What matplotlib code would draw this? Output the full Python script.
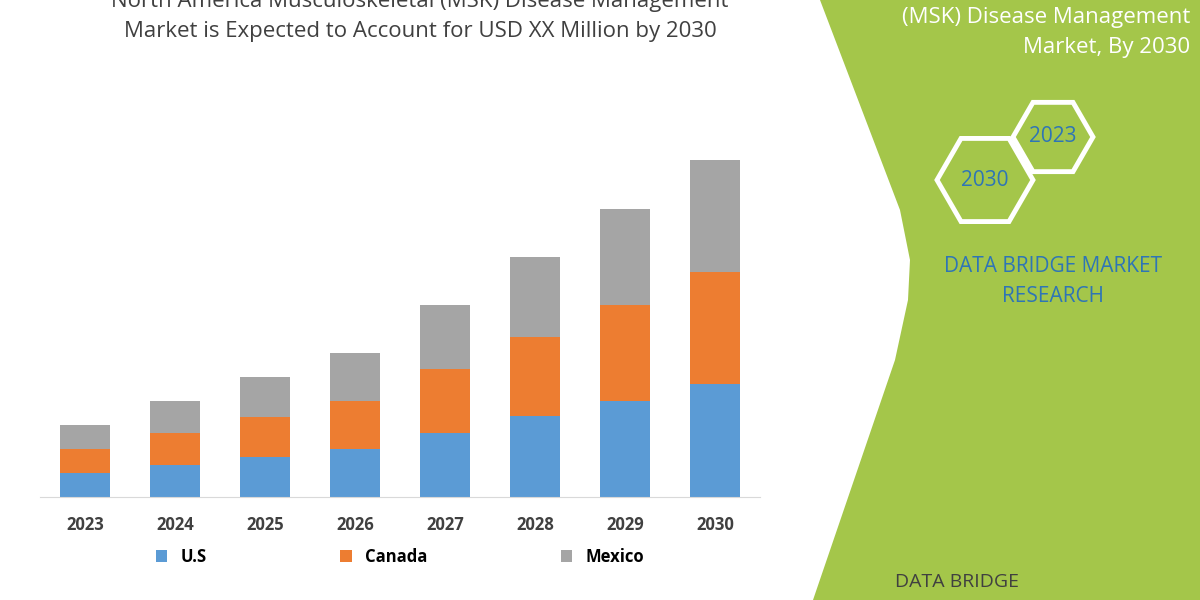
import matplotlib
matplotlib.use("Agg")
import numpy as np
import matplotlib.pyplot as plt
from matplotlib.patches import Polygon, RegularPolygon

plt.rcParams["font.family"] = ["Open Sans", "DejaVu Sans"]

# ── Data ─────────────────────────────────────────────────────────────────────
years  = ["2023", "2024", "2025", "2026", "2027", "2028", "2029", "2030"]
us     = [24, 32, 40, 48, 64, 81, 96, 113]
canada = [24, 32, 40, 48, 64, 79, 96, 112]
mexico = [24, 32, 40, 48, 64, 80, 96, 112]

C_US, C_CA, C_MX = "#5B9BD5", "#ED7D31", "#A5A5A5"
GREEN = "#A4C64A"
BLUE_TXT = "#2E75B6"

W, H = 1200, 600
fig = plt.figure(figsize=(12, 6), dpi=100)

# background layer in pixel coordinates
bg = fig.add_axes([0, 0, 1, 1])
bg.set_xlim(0, W)
bg.set_ylim(H, 0)
bg.axis("off")
green_pts = [(820, 0), (W, 0), (W, H), (813, H), (895, 360), (908, 300),
             (910, 260), (900, 210)]
bg.add_patch(Polygon(green_pts, closed=True, color=GREEN, lw=0))

# hexagons
for cx, cy, lab in [(985, 180, "2030"), (1053, 137, "2023")]:
    r = 48 if lab == "2030" else 40
    bg.add_patch(RegularPolygon((cx, cy), 6, radius=r, orientation=np.pi / 6,
                                fill=False, ec="white", lw=3.5))
    bg.text(cx, cy, lab, color=BLUE_TXT, fontsize=15, ha="center", va="center")

bg.text(1190, 18, "(MSK) Disease Management", color="white", fontsize=16,
        ha="right", va="center")
bg.text(1190, 48, "Market, By 2030", color="white", fontsize=16,
        ha="right", va="center")
bg.text(1053, 267, "DATA BRIDGE MARKET", color=BLUE_TXT, fontsize=15,
        ha="center", va="center")
bg.text(1053, 297, "RESEARCH", color=BLUE_TXT, fontsize=15,
        ha="center", va="center")
bg.text(895, 582, "DATA BRIDGE", color="#404040", fontsize=14,
        ha="left", va="center")

bg.text(420, 2, "North America Musculoskeletal (MSK) Disease Management",
        color="#404040", fontsize=16, ha="center", va="center")
bg.text(420, 31, "Market is Expected to Account for USD XX Million by 2030",
        color="#404040", fontsize=16, ha="center", va="center")

# ── Chart ────────────────────────────────────────────────────────────────────
ax = fig.add_axes([40 / W, 1 - 497 / H, 720 / W, 377 / H])
ax.patch.set_alpha(0)
x = np.arange(len(years))
us_a, ca_a, mx_a = map(np.array, (us, canada, mexico))
ax.bar(x, us_a, 0.56, color=C_US, label="U.S")
ax.bar(x, ca_a, 0.56, bottom=us_a, color=C_CA, label="Canada")
ax.bar(x, mx_a, 0.56, bottom=us_a + ca_a, color=C_MX, label="Mexico")
ax.set_xlim(-0.5, len(years) - 0.5)
ax.set_ylim(0, 377)
ax.set_yticks([])
for s in ["top", "right", "left"]:
    ax.spines[s].set_visible(False)
ax.spines["bottom"].set_color("#D9D9D9")
ax.set_xticks(x)
ax.set_xticklabels(years, fontsize=12, fontweight="bold", color="#404040")
ax.tick_params(axis="x", length=0, pad=14)
ax.legend(loc="upper center", bbox_to_anchor=(0.5, -0.095), ncol=3,
          frameon=False, handlelength=0.7, handleheight=0.7,
          columnspacing=8, prop={"weight": "bold", "size": 12})

fig.savefig("out.png", dpi=100)
